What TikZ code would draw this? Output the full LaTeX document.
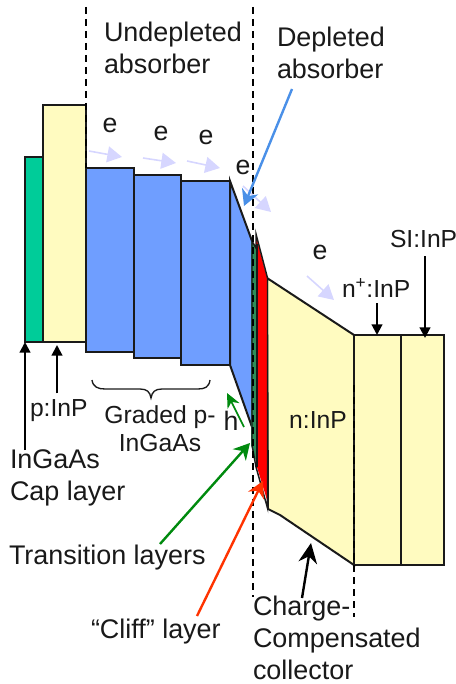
\documentclass[tikz,border=0pt]{standalone}
\usepackage{fontspec}
\setmainfont{Liberation Sans}
\usetikzlibrary{arrows.meta}
\definecolor{capgreen}{HTML}{00CC99}
\definecolor{layeryellow}{HTML}{FFFBC0}
\definecolor{layerblue}{HTML}{6F9EFF}
\definecolor{transgreen}{HTML}{2E8B57}
\definecolor{lav}{HTML}{D6D6FF}
\definecolor{arrgreen}{HTML}{008A0E}
\definecolor{arrred}{HTML}{FF3300}
\definecolor{arrblue}{HTML}{4A90E8}
\definecolor{edge}{HTML}{1A1A1A}
\tikzset{
  layer/.style={draw=edge,line width=1.5pt,line join=miter},
  lbl/.style={inner sep=0pt,outer sep=0pt,font=\fontsize{20.2}{24}\selectfont,text=black!90,align=left,anchor=north west},
  small/.style={lbl,font=\fontsize{18.5}{21}\selectfont},
  elec/.style={inner sep=0pt,outer sep=0pt,font=\fontsize{20}{24}\selectfont,text=black!90},
  guide/.style={draw=black,line width=1pt,dash pattern=on 5pt off 4pt},
  ptr/.style={line width=1.6pt,-{Triangle[length=8pt,width=8pt]}},
  flow/.style={draw=lav,line width=1.2pt,-{Triangle[length=11pt,width=12pt]}},
  colptr/.style={line width=1.8pt,-{Stealth[length=12pt,width=13pt]}},
}
\begin{document}
\begin{tikzpicture}[x=0.75pt,y=-0.75pt]
\useasboundingbox (0,0) rectangle (456,684);
% layers
\draw[layer,fill=capgreen] (25,157) rectangle (43,342);
\draw[layer,fill=layeryellow] (43,105) rectangle (86,342);
\draw[layer,fill=layerblue] (86,168) rectangle (134,352);
\draw[layer,fill=layerblue] (134,175) rectangle (181,358);
\draw[layer,fill=layerblue] (181,181) rectangle (230,365);
\draw[layer,fill=layerblue] (230,181) -- (252,241) -- (252,427) -- (230,365) -- cycle;
\draw[layer,fill=layeryellow] (267,278) -- (354,335) -- (354,565) -- (280,515) -- (268,509) -- cycle;
\draw[layer,fill=layeryellow] (354,335) rectangle (401,565);
\draw[layer,fill=layeryellow] (401,335) rectangle (444,565);
\fill[red] (256,236) -- (267,278) -- (267,500) -- (257,467) -- cycle;
\fill[transgreen] (251,241) -- (256,247) -- (257,465) -- (251,445) -- cycle;
\draw[edge,line width=1.1pt,line join=miter] (252,241) -- (256,248) -- (256,234) -- (267.5,278) -- (267.5,508) -- (256,467) -- (252,445) -- cycle;
\draw[edge,line width=0.8pt] (257,244) -- (257,467);
% dashed guides
\draw[guide] (86,7) -- (86,168);
\draw[guide] (253,7) -- (253,597);
\draw[guide] (354,385) -- (354,617);
% brace
\draw[edge,line width=1pt] (92,380) .. controls (93,387) and (98,389) .. (105,389)
  -- (140,389) .. controls (147,389) and (150,392) .. (151,398)
  .. controls (152,392) and (155,389) .. (162,389)
  -- (198,389) .. controls (205,389) and (209,387) .. (210,380);
% labels
\node[lbl] (undep) at (104,22) {Undepleted\\absorber};
\node[lbl] (dep) at (277,27) {Depleted\\absorber};
\node[elec] (e1) at (110,125) {e};
\node[elec] (e2) at (161,133) {e};
\node[elec] (e3) at (206,137) {e};
\node[elec] (e4) at (243,167) {e};
\node[elec] (e5) at (320,252) {e};
\node[small] (nplus) at (342,279) {n\textsuperscript{+}:InP};
\node[small] (si) at (390,230) {SI:InP};
\node[small] (pinp) at (30,400) {p:InP};
\node[small,align=center,anchor=north] (graded) at (160,406) {Graded p-\\InGaAs};
\node[lbl] (cap) at (10,450) {InGaAs\\Cap layer};
\node[lbl] (trans) at (9,545) {Transition layers};
\node[lbl] (cliff) at (91,619) {“Cliff” layer};
\node[lbl] (charge) at (253,596) {Charge-\\Compensated\\collector};
\node[small,anchor=center] (ninp) at (318,420) {n:InP};
\node[elec] (h) at (231,421) {h};
% electron flow
\coordinate (f1a) at (89,151); \coordinate (f1b) at (122,157);
\coordinate (f2a) at (143,158); \coordinate (f2b) at (176,163);
\coordinate (f3a) at (187,161); \coordinate (f3b) at (220,168);
\coordinate (f4a) at (243,186); \coordinate (f4b) at (271,212);
\coordinate (f5a) at (307,276); \coordinate (f5b) at (334,300);
\draw[flow] (f1a) -- (f1b);
\draw[flow] (f2a) -- (f2b);
\draw[flow] (f3a) -- (f3b);
\draw[flow] (f4a) -- (f4b);
\draw[flow] (f5a) -- (f5b);
% pointers
\coordinate (tcap) at (25,342);
\coordinate (tp) at (57,345);
\coordinate (tn) at (377,335);
\coordinate (tsi) at (425,338);
\coordinate (tcoll) at (311,543);
\coordinate (scoll) at (302,598);
\draw[ptr] (cap.north -| tcap) -- (tcap);
\draw[ptr,shorten <=5pt] (pinp.north -| tp) -- (tp);
\draw[ptr,shorten <=4.5pt] (nplus.south -| tn) -- (tn);
\draw[ptr,shorten <=6.5pt] (si.south -| tsi) -- (tsi);
\draw[black,line width=1.8pt,-{Stealth[length=15pt,width=14pt]}] (scoll) -- (tcoll);
% coloured pointers
\coordinate (tgreen) at (250,443);
\coordinate (sgreen) at (160,544);
\coordinate (tred) at (263,481);
\coordinate (sred) at (197,616);
\coordinate (tblue) at (244,206);
\coordinate (sblue) at (292,89);
\coordinate (th) at (227,393);
\coordinate (sh) at (244,427);
\draw[arrgreen,colptr] (sgreen) -- (tgreen);
\draw[arrred,colptr] (sred) -- (tred);
\draw[arrblue,colptr] (sblue) -- (tblue);
\draw[arrgreen,line width=1.2pt,-{Stealth[length=11pt,width=10pt]}] (sh) -- (th);
\end{tikzpicture}
\end{document}
